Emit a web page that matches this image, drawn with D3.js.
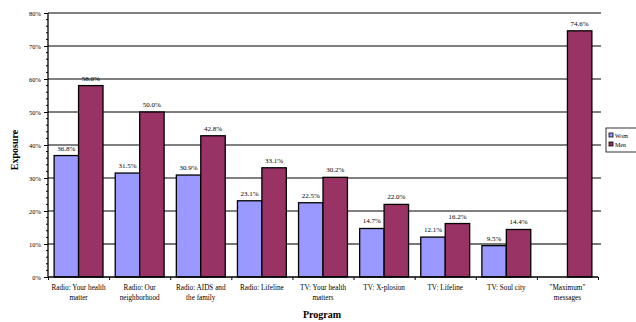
<!DOCTYPE html>
<html><head><meta charset="utf-8">
<script src="https://cdn.jsdelivr.net/npm/d3@7"></script>
<style>body{margin:0;background:#fff}svg{display:block;font-family:"Liberation Serif","Times New Roman",serif}</style>
</head><body><svg id="c" width="636" height="322"></svg>
<script>
const categories = [["Radio: Your health","matter"],["Radio: Our","neighborhood"],["Radio: AIDS and","the family"],["Radio: Lifeline"],["TV: Your health","matters"],["TV: X-plosion"],["TV: Lifeline"],["TV: Soul city"],["\"Maximum\"","messages"]];
const women = [36.8, 31.5, 30.9, 23.1, 22.5, 14.7, 12.1, 9.5, null];
const men = [58.0, 50.0, 42.8, 33.1, 30.2, 22.0, 16.2, 14.4, 74.6];
const seriesNames = ["Wom", "Men"];
const colors = ["#9999FF", "#993366"];
const yTicks = [0,10,20,30,40,50,60,70,80];

const svg = d3.select("#c");
const L = 48, R = 598, T = 13, B = 277;
const x = d3.scaleBand().domain(d3.range(categories.length)).range([L, R]).paddingInner(0).paddingOuter(0);
const y = d3.scaleLinear().domain([0, 80]).range([B, T]);
const bw = x.bandwidth() * 0.4;
const off = x.bandwidth() * 0.1;

// gridlines
svg.append("g").selectAll("line").data(yTicks.filter(d => d > 0)).join("line")
  .attr("x1", L).attr("x2", R).attr("y1", d => y(d)).attr("y2", d => y(d))
  .attr("stroke", d => d === 10 ? "#777" : "#000")
  .attr("stroke-width", d => d === 10 ? 2 : 1);

// right-side small ticks
svg.append("g").selectAll("line").data(yTicks.filter(d => d > 0)).join("line")
  .attr("x1", R).attr("x2", R + 3).attr("y1", d => y(d)).attr("y2", d => y(d))
  .attr("stroke", "#000").attr("stroke-width", 1);

// bars
const series = [women, men];
series.forEach((vals, si) => {
  svg.append("g").selectAll("rect").data(vals.map((v, i) => ({v, i})).filter(d => d.v != null)).join("rect")
    .attr("x", d => x(d.i) + off + si * bw)
    .attr("y", d => y(d.v))
    .attr("width", bw)
    .attr("height", d => B - y(d.v))
    .attr("fill", colors[si]).attr("stroke", "#000").attr("stroke-width", 1.3);
  svg.append("g").selectAll("text").data(vals.map((v, i) => ({v, i})).filter(d => d.v != null)).join("text")
    .attr("x", d => x(d.i) + off + si * bw + bw / 2)
    .attr("y", d => y(d.v) - 5)
    .attr("text-anchor", "middle").attr("font-size", 7).attr("fill", "#000")
    .text(d => d.v.toFixed(1) + "%");
});

// y axis
const yAxis = d3.axisLeft(y).tickValues(yTicks).tickFormat(d => d + "%").tickSize(4).tickPadding(3);
const ya = svg.append("g").attr("transform", `translate(${L},0)`).call(yAxis);
ya.select(".domain").attr("stroke", "#000").attr("stroke-width", 1.3).attr("d", `M0,${T}V${B}`);
ya.selectAll("text").attr("font-size", 6.5).attr("font-family", "Liberation Serif");
// minor ticks
svg.append("g").selectAll("line").data(d3.range(0, 81, 2).filter(d => d % 10 !== 0)).join("line")
  .attr("x1", L - 2).attr("x2", L).attr("y1", d => y(d)).attr("y2", d => y(d))
  .attr("stroke", "#000").attr("stroke-width", 1);

// x axis
const xAxis = d3.axisBottom(d3.scaleLinear().domain([0, categories.length]).range([L, R]))
  .tickValues(d3.range(0, categories.length + 1)).tickFormat("").tickSize(3);
const xa = svg.append("g").attr("transform", `translate(0,${B})`).call(xAxis);
xa.select(".domain").attr("stroke", "#000").attr("stroke-width", 1.5).attr("d", `M${L},0H${R}`);

// category labels
const cl = svg.append("g").selectAll("text").data(categories).join("text")
  .attr("x", (d, i) => x(i) + x.bandwidth() / 2).attr("y", 290)
  .attr("text-anchor", "middle").attr("font-size", 7.2).attr("fill", "#000");
cl.each(function(d) {
  d.forEach((line, k) => d3.select(this).append("tspan")
    .attr("x", d3.select(this).attr("x")).attr("dy", k === 0 ? 0 : 10).text(line));
});

// axis titles
svg.append("text").attr("x", 322).attr("y", 318).attr("text-anchor", "middle")
  .attr("font-size", 10).attr("font-weight", "bold").text("Program");
svg.append("text").attr("transform", "translate(18,150) rotate(-90)").attr("text-anchor", "middle")
  .attr("font-size", 10).attr("font-weight", "bold").text("Exposure");

// legend
const lg = svg.append("g").attr("transform", "translate(606,128)");
lg.append("rect").attr("width", 40).attr("height", 24).attr("fill", "#fff").attr("stroke", "#000").attr("stroke-width", 0.8);
seriesNames.forEach((n, i) => {
  lg.append("rect").attr("x", 3).attr("y", 5 + i * 9).attr("width", 4).attr("height", 4)
    .attr("fill", colors[i]).attr("stroke", "#000").attr("stroke-width", 0.8);
  lg.append("text").attr("x", 9).attr("y", 9.5 + i * 9).attr("font-size", 6).text(n);
});
</script></body></html>
